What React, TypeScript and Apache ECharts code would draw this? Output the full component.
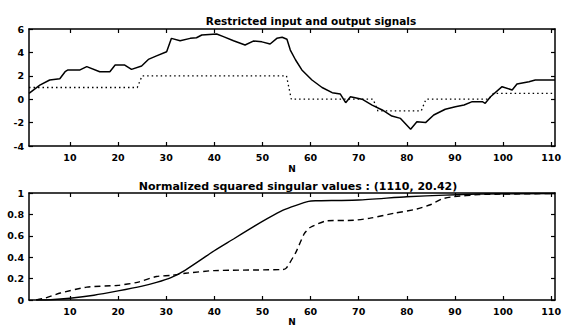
import React, { useEffect, useRef } from "react";
import * as echarts from "echarts";

const xTicks = [10, 20, 30, 40, 50, 60, 70, 80, 90, 100, 110];

const outN = [1.5, 3.75, 5.8, 7.9, 9, 9.6, 12.1, 13.5, 16.2, 18.3, 19.4, 21.4, 22.8, 24.9, 26.3, 28, 30.1, 31.1, 32.9, 35, 36.3, 37.4, 40.5, 41.9, 44, 46.4, 48.1, 49.9, 51.6, 53, 54.1, 55.1, 55.8, 56.9, 58.2, 60.3, 62.4, 64.5, 66.2, 67.3, 68.3, 70.7, 72.8, 74.9, 76.9, 78.7, 80.8, 82.1, 83.9, 85.6, 88, 90.1, 91.9, 93.6, 95.7, 96.3, 97.4, 99.8, 101.9, 102.9, 105.4, 106.7, 110.8];
const outV = [0.5, 1.2, 1.64, 1.75, 2.35, 2.5, 2.5, 2.78, 2.35, 2.35, 2.92, 2.92, 2.55, 2.84, 3.4, 3.7, 4.06, 5.2, 5.0, 5.2, 5.25, 5.49, 5.57, 5.35, 5.0, 4.63, 4.97, 4.9, 4.72, 5.2, 5.29, 5.12, 4.2, 3.35, 2.5, 1.64, 1.0, 0.56, 0.44, -0.3, 0.21, 0, -0.5, -0.92, -1.44, -1.64, -2.57, -1.92, -2.0, -1.35, -0.86, -0.64, -0.5, -0.21, -0.21, -0.35, 0.21, 1.07, 0.79, 1.3, 1.5, 1.64, 1.64];

const inN = [1.5, 24, 25, 55, 56, 73, 74, 83, 84, 97, 98, 110.8];
const inV = [1, 1, 2, 2, 0, 0, -1, -1, 0, 0, 0.5, 0.5];

const svSolidN = [3, 6, 10, 15, 20, 25, 28, 31, 34, 40, 44, 47.4, 51, 54.3, 57, 59.6, 61, 70, 80, 88, 95, 110.8];
const svSolidV = [0, 0.003, 0.017, 0.045, 0.085, 0.13, 0.165, 0.21, 0.28, 0.46, 0.57, 0.665, 0.76, 0.84, 0.885, 0.922, 0.927, 0.935, 0.965, 0.98, 0.99, 0.995];

const svDashN = [3, 5, 8, 13.5, 20, 24, 28, 31, 34, 40, 54.3, 55, 57, 58.7, 60, 63.4, 69, 72.4, 77.3, 82.1, 84.9, 87.3, 89.7, 95, 100, 110.8];
const svDashV = [0, 0.02, 0.065, 0.12, 0.137, 0.165, 0.22, 0.23, 0.25, 0.275, 0.285, 0.3, 0.45, 0.62, 0.68, 0.74, 0.745, 0.765, 0.81, 0.85, 0.89, 0.945, 0.965, 0.985, 0.99, 0.995];

const zip = (a: number[], b: number[]) => a.map((v, i) => [v, b[i]]);

const FONT = "DejaVu Sans";

export default function App() {
  const ref = useRef<HTMLDivElement>(null);
  useEffect(() => {
    if (!ref.current) return;
    const chart = echarts.init(ref.current, undefined, { renderer: "svg" });
    const tickStyle = { show: true, inside: true, length: 4, lineStyle: { color: "#000", width: 1.2 } };
    const labelStyle = { color: "#000", fontFamily: FONT, fontWeight: "bold" as const, fontSize: 9.5 };
    const mkX = (gridIndex: number, withLabels: boolean, position: "bottom" | "top", nameGap: number) => ({
      type: "value" as const,
      gridIndex,
      position,
      min: 1.5,
      max: 110.8,
      axisLine: { show: true, onZero: false, lineStyle: { color: "#000", width: 1.5 } },
      axisTick: { ...tickStyle, customValues: xTicks },
      axisLabel: withLabels ? { ...labelStyle, customValues: xTicks, margin: 6 } : { show: false },
      splitLine: { show: false },
      name: withLabels ? "N" : "",
      nameLocation: "middle" as const,
      nameGap,
      nameTextStyle: { ...labelStyle, fontSize: 9 },
    });
    const mkY = (gridIndex: number, min: number, max: number, interval: number, withLabels: boolean, position: "left" | "right") => ({
      type: "value" as const,
      gridIndex,
      position,
      min,
      max,
      interval,
      axisLine: { show: true, onZero: false, lineStyle: { color: "#000", width: 1.5 } },
      axisTick: tickStyle,
      axisLabel: withLabels ? { ...labelStyle, margin: 5 } : { show: false },
      splitLine: { show: false },
    });
    chart.setOption({
      animation: false,
      backgroundColor: "#fff",
      title: [
        { text: "Restricted input and output signals", left: 306, top: 10, textAlign: "center", textStyle: { ...labelStyle, fontSize: 10.5 } },
        { text: "Normalized squared singular values : (1110, 20.42)", left: 293, top: 176, textAlign: "center", textStyle: { ...labelStyle, fontSize: 11 } },
      ],
      grid: [
        { left: 29, right: 10, top: 29, height: 117 },
        { left: 29, right: 10, top: 193, height: 115 },
      ],
      xAxis: [mkX(0, true, "bottom", 18), mkX(0, false, "top", 0), mkX(1, true, "bottom", 17), mkX(1, false, "top", 0)],
      yAxis: [mkY(0, -4, 6, 2, true, "left"), mkY(0, -4, 6, 2, false, "right"), mkY(1, 0, 1, 0.2, true, "left"), mkY(1, 0, 1, 0.2, false, "right")],
      series: [
        { type: "line", xAxisIndex: 0, yAxisIndex: 0, data: zip(outN, outV), showSymbol: false, lineStyle: { color: "#000", width: 1.5 } },
        { type: "line", xAxisIndex: 0, yAxisIndex: 0, data: zip(inN, inV), showSymbol: false, lineStyle: { color: "#000", width: 1.3, type: [1.5, 3] } },
        { type: "line", xAxisIndex: 2, yAxisIndex: 2, data: zip(svSolidN, svSolidV), showSymbol: false, smooth: 0.2, lineStyle: { color: "#000", width: 1.4 } },
        { type: "line", xAxisIndex: 2, yAxisIndex: 2, data: zip(svDashN, svDashV), showSymbol: false, smooth: 0.2, lineStyle: { color: "#000", width: 1.4, type: [6, 4] } },
      ],
    });
    return () => chart.dispose();
  }, []);
  return <div ref={ref} style={{ width: 565, height: 327, position: "absolute", left: 0, top: 0 }} />;
}
